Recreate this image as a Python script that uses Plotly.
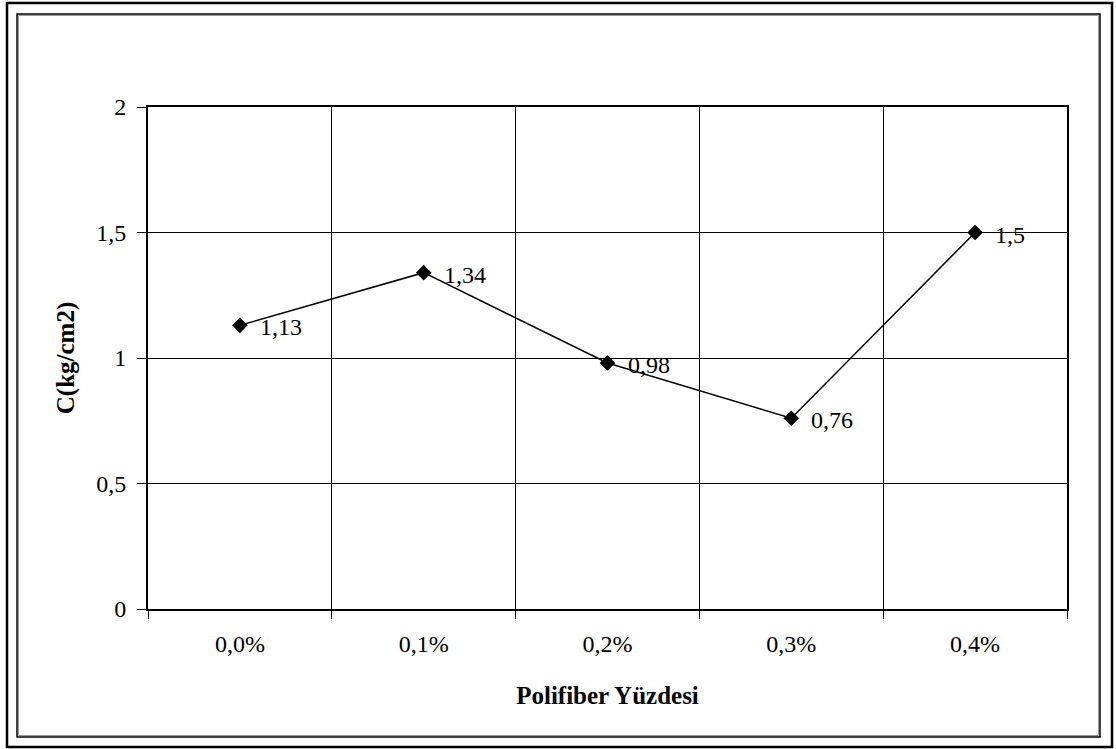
import plotly.graph_objects as go

categories = ["0,0%", "0,1%", "0,2%", "0,3%", "0,4%"]
c_values = [1.13, 1.34, 0.98, 0.76, 1.5]
labels = [str(v).replace(".", ",") for v in c_values]

W, H = 1116, 749
L, R, T, B = 148, 1067, 107, 609


def px(x):
    return (x - L) / (R - L)


def py(y):
    return (B - y) / (B - T)


font = "Liberation Serif, Times New Roman, serif"

fig = go.Figure()
fig.add_trace(go.Scatter(
    x=categories, y=c_values,
    mode="lines+markers",
    line=dict(color="black", width=1.5),
    marker=dict(symbol="diamond", size=12, color="black"),
    showlegend=False,
    cliponaxis=False,
))

# data labels to the right of each point
for cat, v, lab in zip(categories, c_values, labels):
    fig.add_annotation(x=cat, y=v, text=lab, showarrow=False,
                       xanchor="left", xshift=18, yshift=-2,
                       font=dict(family=font, size=24, color="black"))

# outer frames
fig.add_shape(type="rect", xref="paper", yref="paper",
              x0=px(7), x1=px(1112), y0=py(747), y1=py(3),
              line=dict(color="black", width=2.5))
fig.add_shape(type="rect", xref="paper", yref="paper",
              x0=px(18.5), x1=px(1098.5), y0=py(735.5), y1=py(15.5),
              line=dict(color="#999999", width=1))
fig.add_shape(type="rect", xref="paper", yref="paper",
              x0=px(17), x1=px(1100), y0=py(737), y1=py(14),
              line=dict(color="black", width=1.5))

fig.update_layout(
    width=W, height=H,
    margin=dict(l=L, r=W - R, t=T, b=H - B),
    paper_bgcolor="white", plot_bgcolor="white",
    separators=",.",
    font=dict(family=font, size=24, color="black"),
    xaxis=dict(
        type="category", tickson="boundaries", range=[-0.5, 4.5],
        showgrid=True, gridcolor="black", gridwidth=1,
        ticks="outside", ticklen=8, tickcolor="black",
        ticklabelstandoff=12,
        showline=True, linecolor="black", linewidth=2, mirror=True,
        title=dict(text="<b>Polifiber Yüzdesi</b>", font=dict(size=25), standoff=31),
        zeroline=False,
    ),
    yaxis=dict(
        range=[0, 2], dtick=0.5,
        showgrid=True, gridcolor="black", gridwidth=1,
        ticks="outside", ticklen=9, tickcolor="black",
        ticklabelstandoff=6,
        showline=True, linecolor="black", linewidth=2, mirror=True,
        title=dict(text="<b>C(kg/cm2)</b>", font=dict(size=25), standoff=14),
        zeroline=False,
    ),
)

fig.write_html("out.html", config={"displayModeBar": False},
               post_script="document.body.style.margin='0px';")
